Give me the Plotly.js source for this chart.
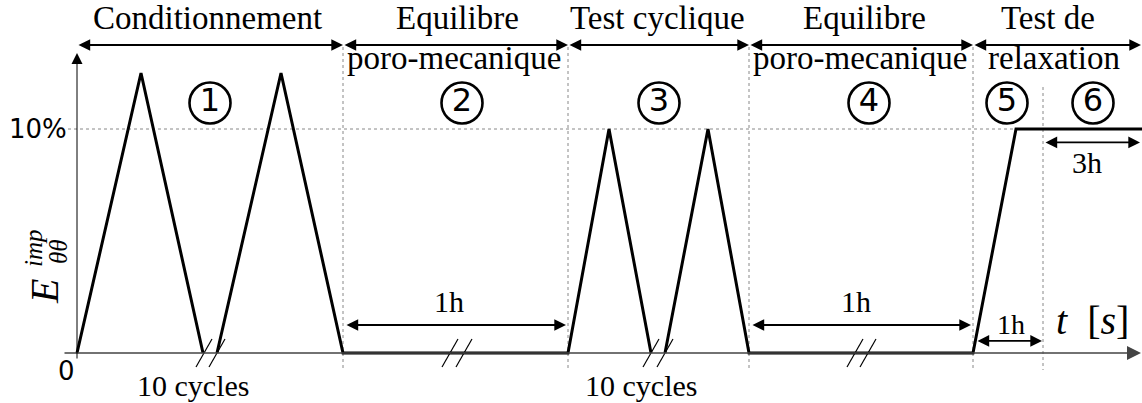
<!DOCTYPE html>
<html>
<head>
<meta charset="utf-8">
<script src="https://cdn.plot.ly/plotly-3.0.1.min.js"></script>
<style>html,body{margin:0;padding:0;background:#fff;}#chart{width:1142px;height:403px;}</style>
</head>
<body>
<div id="chart"></div>
<script>
// ---- data (schematic time units t, imposed strain in %) ----
const curveT = [77, 141, 203, null, 217, 281, 343, 568, 609, 651, null, 665, 708, 749, 973, 1016, 1142];
const curveE = [0, 12.5, 0, null, 0, 12.5, 0, 0, 10, 0, null, 0, 10, 0, 0, 10, 10];

const phaseBounds = [77, 343, 568, 749, 973, 1141];
const phaseTitles = ["Conditionnement", "Equilibre", "Test cyclique", "Equilibre", "Test de"];
const phaseTitleT = [207, 457, 657, 864, 1048];
const phaseSubtitles = ["poro-mecanique", "poro-mecanique", "relaxation"];
const phaseSubtitleT = [454, 860, 1054];

const stepLabels = ["1", "2", "3", "4", "5", "6"];
const stepT = [210, 462, 659, 869, 1007, 1093];

const phaseLinesT = [343, 568, 749, 973];
const relaxLineT = [1043];

const durationLabels = ["1h", "1h", "1h", "3h"];
const durationStart = [345, 751, 976, 1044];
const durationEnd = [566, 971, 1042, 1140];
const durationLevel = [1.25, 1.25, 0.54, 9.4];

const breakT = [204, 217, 450, 464, 651, 665, 855, 868];
const cycleNoteT = [193, 641];
const cycleNote = "10 cycles";

const yTickVals = [0, 10];
const yTickText = ["0", "10%"];

// ---- layout helpers ----
const Y0 = 353, PXPER = 22.4;            // pixel of strain 0, pixels per 1%
const yTop = Y0 / PXPER, yBot = -(403 - Y0) / PXPER;
const pyToE = py => (Y0 - py) / PXPER;
const serif = "'Liberation Serif', 'Times New Roman', serif";
const sans = "'DejaVu Sans', sans-serif";

const traces = [];
// main loading curve
traces.push({x: curveT, y: curveE, mode: "lines", line: {color: "#000", width: 3}, hoverinfo: "skip", cliponaxis: false});

// break marks
const bx = [], by = [];
breakT.forEach(t => { bx.push(t - 8, t + 8, null); by.push(pyToE(367), pyToE(339), null); });
traces.push({x: bx, y: by, mode: "lines", line: {color: "#000", width: 1.2}, hoverinfo: "skip", cliponaxis: false});

// circled step numbers
traces.push({x: stepT, y: stepT.map(() => pyToE(103)), mode: "markers+text", text: stepLabels,
  textposition: "middle center", textfont: {family: sans, size: 32, color: "#000"},
  marker: {symbol: "circle-open", size: 41, color: "#000", line: {width: 2.6, color: "#000"}},
  hoverinfo: "skip", cliponaxis: false});

// shapes: dotted guide lines
const shapes = [];
shapes.push({type: "line", xref: "x", yref: "y", x0: 68, x1: 1016, y0: 10, y1: 10, line: {color: "#888", width: 1, dash: "dot"}, layer: "below"});
phaseLinesT.forEach(t => shapes.push({type: "line", xref: "x", yref: "y", x0: t, x1: t, y0: pyToE(47), y1: pyToE(370), line: {color: "#888", width: 1, dash: "dot"}, layer: "below"}));
relaxLineT.forEach(t => shapes.push({type: "line", xref: "x", yref: "y", x0: t, x1: t, y0: pyToE(87), y1: pyToE(370), line: {color: "#888", width: 1, dash: "dot"}, layer: "below"}));

const ann = [];
function arrow(x0, y0, x1, y1, both, opts) {
  ann.push(Object.assign({x: x1, y: y1, ax: x0, ay: y0, xref: "x", yref: "y", axref: "x", ayref: "y",
    text: "", showarrow: true, arrowhead: 2, startarrowhead: 2, arrowsize: 1.3, startarrowsize: 1.3,
    arrowwidth: 1.8, arrowcolor: "#000", arrowside: both ? "end+start" : "end"}, opts || {}));
}
// axes
arrow(63, 0, 1141, 0, false, {arrowcolor: "#444", arrowwidth: 1.4, arrowsize: 2});
arrow(77, pyToE(360), 77, pyToE(53), false, {arrowwidth: 1, arrowsize: 2.2});
// phase arrows
for (let i = 0; i < phaseBounds.length - 1; i++) arrow(phaseBounds[i], pyToE(45), phaseBounds[i + 1], pyToE(45), true);
// duration arrows
durationLabels.forEach((l, i) => arrow(durationStart[i], durationLevel[i], durationEnd[i], durationLevel[i], true));

function label(text, x, py, size, font, extra) {
  ann.push(Object.assign({x: x, y: 1 - py / 403, xref: "x", yref: "paper", text: text, showarrow: false,
    xanchor: "center", yanchor: "middle", font: {family: font || serif, size: size, color: "#000"}}, extra || {}));
}
phaseTitles.forEach((s, i) => label(s, phaseTitleT[i], 18, 33));
phaseSubtitles.forEach((s, i) => label(s, phaseSubtitleT[i], 58, 33));
// duration labels
const durLabelPy = [301, 301, 324, 163];
const durLabelT = [449, 856, 1011, 1087];
durationLabels.forEach((s, i) => label(s, durLabelT[i], durLabelPy[i], i === 2 ? 28 : 30));
cycleNoteT.forEach(t => label(cycleNote, t, 385, 30));
// y tick labels
label(yTickText[1], 38, Y0 - yTickVals[1] * PXPER, 26, sans);
label(yTickText[0], 66, 371, 26, sans);
// axis titles
label("<i>t</i>  [<i>s</i>]", 1092, 320, 40);
label("<i>E</i>", 44, 292, 40, serif, {textangle: -90});
label("<i>imp</i>", 33, 248, 25, serif, {textangle: -90});
label("<i>θθ</i>", 58, 252, 25, serif, {textangle: -90});

const layout = {
  width: 1142, height: 403, margin: {l: 0, r: 0, t: 0, b: 0},
  paper_bgcolor: "#fff", plot_bgcolor: "#fff", showlegend: false,
  xaxis: {range: [0, 1142], visible: false, fixedrange: true},
  yaxis: {range: [yBot, yTop], visible: false, fixedrange: true},
  shapes: shapes, annotations: ann
};
Plotly.newPlot("chart", traces, layout, {staticPlot: true, displayModeBar: false});
</script>
</body>
</html>
